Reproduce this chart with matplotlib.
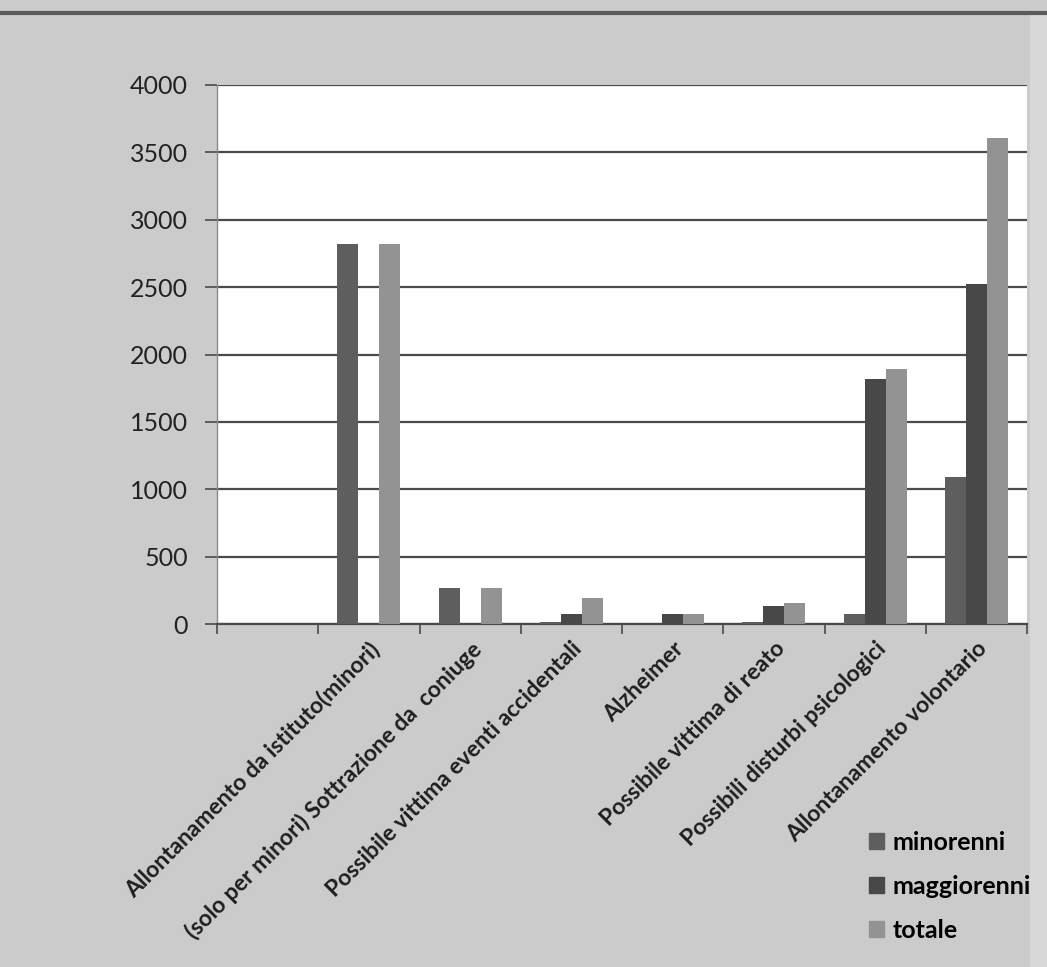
import matplotlib.pyplot as plt
import numpy as np
from matplotlib.patches import Patch, Rectangle
from matplotlib.lines import Line2D

# data
categories = ['',
              'Allontanamento da istituto(minori)',
              '(solo per minori) Sottrazione da  coniuge',
              'Possibile vittima eventi accidentali',
              'Alzheimer',
              'Possibile vittima di reato',
              'Possibili disturbi psicologici',
              'Allontanamento volontario']
minorenni = [0, 2820, 270, 12, 0, 15, 75, 1090]
maggiorenni = [0, 0, 0, 75, 75, 135, 1820, 2520]
totale = [0, 2820, 270, 192, 75, 155, 1895, 3610]
series_names = ['minorenni', 'maggiorenni', 'totale']
yticks = [0, 500, 1000, 1500, 2000, 2500, 3000, 3500, 4000]

col_min = '#5e5e5e'
col_mag = '#484848'
col_tot = '#939393'
bg = '#cbcbcb'

plt.rcParams['font.family'] = ['Lato', 'DejaVu Sans']

fig = plt.figure(figsize=(10.47, 9.67), dpi=100, facecolor=bg)
ax = fig.add_axes([217/1047, 1-624/967, (1027-217)/1047, (624-85)/967])
ax.set_facecolor('white')

x = np.arange(len(categories))
w = 0.207
ax.bar(x - w, minorenni, w, color=col_min, zorder=3)
ax.bar(x, maggiorenni, w, color=col_mag, zorder=3)
ax.bar(x + w, totale, w, color=col_tot, zorder=3)

ax.set_ylim(0, 4000)
ax.set_xlim(-0.5, len(categories) - 0.5)
ax.set_yticks(yticks)
ax.set_yticklabels([str(v) for v in yticks], fontsize=18, color='#222222')
ax.yaxis.grid(True, color='#4a4a4a', linewidth=1.6, zorder=1)
ax.tick_params(axis='y', length=9, width=1.2, color='#4a4a4a', pad=12)

# category boundaries as outward ticks, labels at centres
ax.set_xticks(np.arange(len(categories) + 1) - 0.5)
ax.set_xticklabels([])
ax.set_xticks(x, minor=True)
ax.set_xticklabels(categories, minor=True, rotation=45, ha='right', va='top',
                   rotation_mode='anchor', fontsize=16.5, fontweight='bold',
                   color='#1e1e1e')
ax.tick_params(axis='x', which='major', length=7, width=1.2, color='#4a4a4a', direction='out')
ax.tick_params(axis='x', which='minor', length=0, pad=10)

for s in ['top', 'right']:
    ax.spines[s].set_visible(False)
ax.spines['bottom'].set_color('#4a4a4a')
ax.spines['bottom'].set_linewidth(1.6)
ax.spines['left'].set_color('#8a8a8a')
ax.spines['left'].set_linewidth(1.0)

handles = [Patch(color=col_min), Patch(color=col_mag), Patch(color=col_tot)]
fig.legend(handles, series_names, loc='upper left', bbox_to_anchor=(846/1047, 1-808/967),
           frameon=False, prop={'size': 18, 'weight': 'bold'}, handlelength=0.6,
           handleheight=0.6, handletextpad=0.35, labelspacing=0.85)

# scan border: dark top edge and lighter strip on the right
fig.add_artist(Line2D([0, 1], [1-13/967, 1-13/967], color='#5a5a5a', linewidth=3))
fig.add_artist(Rectangle((1030/1047, 0), 17/1047, 1-15/967, color='#d8d8d8', zorder=0))

fig.savefig('out.png', dpi=100, facecolor=bg)
